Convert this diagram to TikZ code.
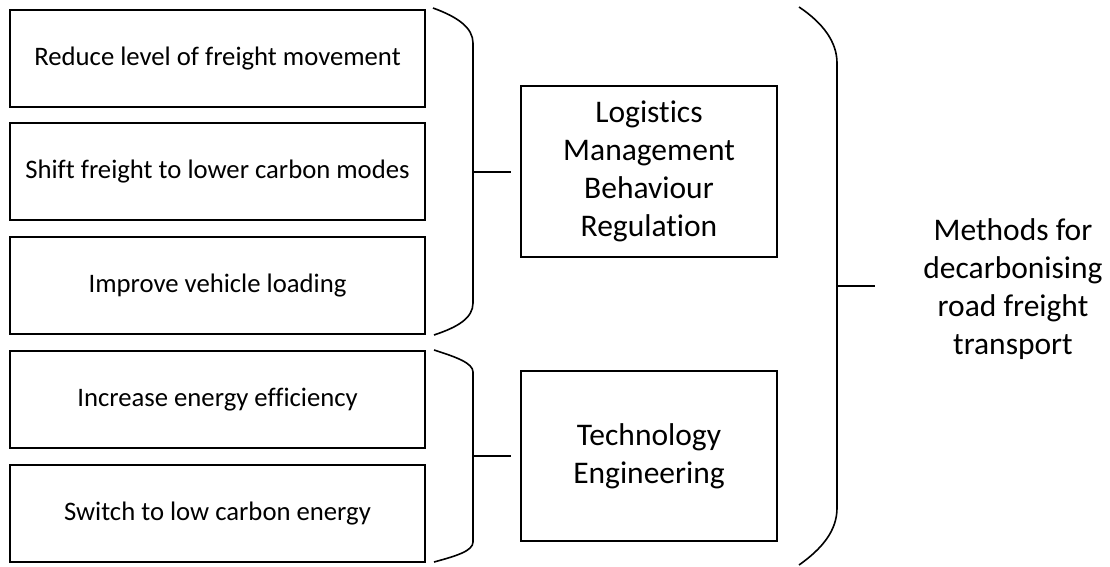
\documentclass[tikz,border=0pt]{standalone}
\usepackage{fontspec}
\setmainfont{Carlito}[Ligatures=NoCommon]
\begin{document}
\begin{tikzpicture}[x=1pt,y=-1pt,
  every node/.style={inner sep=0pt},
  leftbox/.style={draw, line width=1.6pt, minimum width=415pt, minimum height=97pt, font=\fontsize{26.7}{33}\selectfont, align=center},
  midbox/.style={draw, line width=1.6pt, minimum width=256pt, font=\fontsize{31.5}{38}\selectfont, align=center},
  bracket/.style={line width=1.6pt},
  tick/.style={line width=1.6pt}]
\useasboundingbox (0,0) rectangle (1110,566);
% left boxes
\node[leftbox] (r1) at (217.5,58.5) {Reduce level of freight movement};
\node[leftbox] (r2) at (217.5,171.5) {Shift freight to lower carbon modes};
\node[leftbox] (r3) at (217.5,285.5) {Improve vehicle loading};
\node[leftbox] (r4) at (217.5,399.5) {Increase energy efficiency};
\node[leftbox] (r5) at (217.5,513.5) {Switch to low carbon energy};
% middle boxes
\node[midbox, minimum height=171pt] (m1) at (649,171.5) {Logistics\\Management\\Behaviour\\Regulation};
\node[midbox, minimum height=170pt] (m2) at (649,456) {Technology\\Engineering};
% right text
\node[font=\fontsize{31.5}{38}\selectfont, align=center] (goal) at (1013,289) {Methods for\\decarbonising\\road freight\\transport};
% brace 1
\draw[bracket] (433,8) .. controls (458,17) and (473,28) .. (473,43) -- (473,303) .. controls (473,318) and (458,327) .. (434,335);
\coordinate (b1tip) at (473,172);
\coordinate (b1end) at (511,172);
\draw[tick] (b1tip) -- (b1end);
% brace 2
\draw[bracket] (434,350) .. controls (456,357) and (473,363) .. (473,372) -- (473,542) .. controls (473,551) and (456,556) .. (434,562);
\coordinate (b2tip) at (473,456);
\coordinate (b2end) at (511,456);
\draw[tick] (b2tip) -- (b2end);
% big brace
\draw[bracket] (799,7) .. controls (823,23) and (837,42) .. (837,63) -- (837,508) .. controls (837,530) and (823,548) .. (799,565);
\coordinate (b3tip) at (837,286);
\coordinate (b3end) at (875,286);
\draw[tick] (b3tip) -- (b3end);
\end{tikzpicture}
\end{document}
